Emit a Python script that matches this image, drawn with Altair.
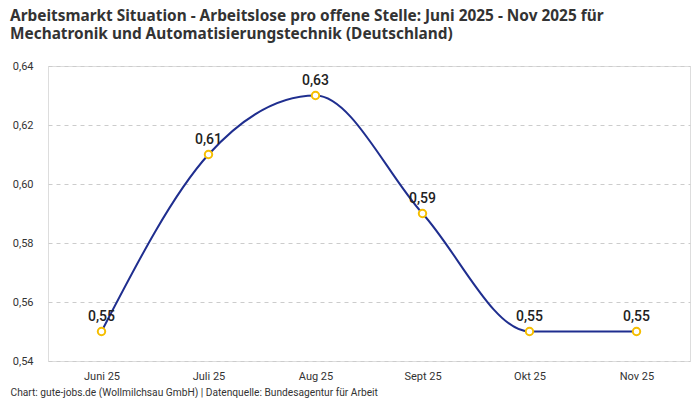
import altair as alt
import pandas as pd

months = ["Juni 25", "Juli 25", "Aug 25", "Sept 25", "Okt 25", "Nov 25"]
values = [0.55, 0.61, 0.63, 0.59, 0.55, 0.55]
y_ticks = [0.54, 0.56, 0.58, 0.60, 0.62, 0.64]

title_lines = [
    "Arbeitsmarkt Situation - Arbeitslose pro offene Stelle: Juni 2025 - Nov 2025 für",
    "Mechatronik und Automatisierungstechnik (Deutschland)",
]
footer = "Chart: gute-jobs.de (Wollmilchsau GmbH) | Datenquelle: Bundesagentur für Arbeit"

df = pd.DataFrame({"monat": months, "wert": values})

FONT = "Roboto"

x_enc = alt.X(
    "monat:N",
    sort=months,
    scale=alt.Scale(type="point", padding=0.5),
    axis=alt.Axis(
        title=footer,
        titleAnchor="start",
        titleAlign="left",
        titleBaseline="alphabetic",
        titleX=-38,
        titleY=34,
        titleFontSize=10.2,
        titleFontWeight="normal",
        titleColor="#333333",
        titleFont=FONT,
        labelAngle=0,
        labelFontSize=11,
        labelColor="#333333",
        labelFont=FONT,
        labelPadding=9,
        ticks=False,
        domain=False,
        grid=False,
    ),
)
y_enc = alt.Y(
    "wert:Q",
    scale=alt.Scale(domain=[0.54, 0.64], nice=False, zero=False),
    axis=alt.Axis(
        title=None,
        values=y_ticks,
        labelExpr="replace(format(datum.value, '.2f'), '.', ',')",
        labelFontSize=11,
        labelColor="#333333",
        labelFont=FONT,
        labelPadding=15,
        ticks=False,
        domain=False,
        grid=True,
        gridColor="#cccccc",
        gridDash=[4, 4],
        gridWidth=1,
    ),
)

base = alt.Chart(df).encode(x=x_enc, y=y_enc)

line = base.mark_line(color="#1f2e8f", strokeWidth=2, interpolate="monotone")
points = base.mark_point(
    filled=True, fill="white", stroke="#f5be00", strokeWidth=2, size=55, opacity=1
)
labels = base.transform_calculate(
    lbl="replace(format(datum.wert, '.2f'), '.', ',')"
).mark_text(
    dy=-15, fontSize=14, fontWeight=500, font=FONT, color="#222222"
).encode(text="lbl:N")

chart = (
    alt.layer(line, points, labels)
    .properties(
        width=642,
        height=295,
        padding={"left": 2, "top": 0, "right": 2, "bottom": 0},
        title=alt.TitleParams(
            text=title_lines,
            anchor="start",
            frame="bounds",
            font="Noto Sans",
            fontSize=15.4,
            fontWeight="bold",
            color="#333333",
            lineHeight=18.5,
            offset=17.5,
        ),
    )
    .configure_view(stroke="transparent", strokeWidth=0)
    .configure(background="white")
)

chart.save("out.html", embed_options={"renderer": "svg", "actions": False})
